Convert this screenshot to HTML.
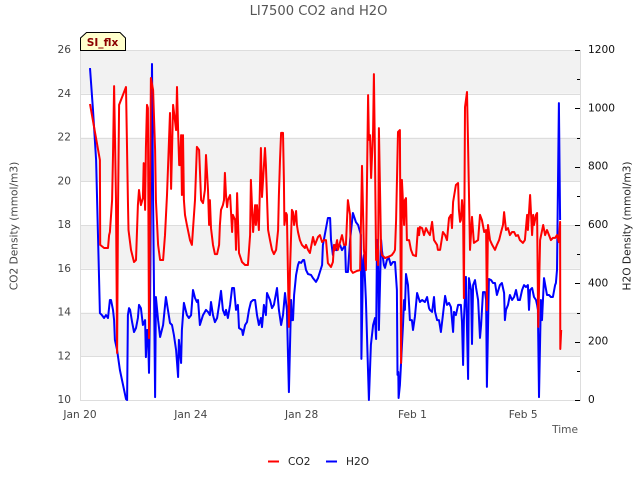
<!DOCTYPE html>
<html>
<head>
<meta charset="utf-8">
<title>LI7500 CO2 and H2O</title>
<style>
html,body{margin:0;padding:0;background:#fff;width:640px;height:480px;overflow:hidden}
svg{display:block;font-family:"DejaVu Sans",sans-serif}
</style>
</head>
<body>
<svg id="chart" width="640" height="480" viewBox="0 0 640 480" xmlns="http://www.w3.org/2000/svg">
  <g id="bands"></g>
  <g id="series"></g>
  <g id="axes"></g>
  <g>
    <polygon points="80.5,50.5 80.5,38 86.5,32.5 120,32.5 125.5,38 125.5,50.5" fill="#ffffcc" stroke="#000" stroke-width="1"/>
    <text x="102.5" y="46" text-anchor="middle" font-size="10.6" font-weight="bold" fill="#8b0000">SI_flx</text>
  </g>
  <text x="318.5" y="15" text-anchor="middle" font-size="13.1" fill="#555">LI7500 CO2 and H2O</text>
  <text transform="translate(17.5,226) rotate(-90)" text-anchor="middle" font-size="10.6" fill="#444">CO2 Density (mmol/m3)</text>
  <text transform="translate(630.5,226) rotate(-90)" text-anchor="middle" font-size="10.6" fill="#222">H2O Density (mmol/m3)</text>
  <text x="578" y="433" text-anchor="end" font-size="10.6" fill="#555">Time</text>
  <g>
    <line x1="268" y1="461.5" x2="279" y2="461.5" stroke="#ff0000" stroke-width="2"/>
    <text x="288" y="465" font-size="10.6" fill="#222">CO2</text>
  </g>
  <g>
    <line x1="326" y1="461.5" x2="337" y2="461.5" stroke="#0000ff" stroke-width="2"/>
    <text x="346" y="465" font-size="10.6" fill="#222">H2O</text>
  </g>
</svg>
<script>
// Days since Jan 20 and measured values
const xTickDays = [0, 4, 8, 12, 16];
const xTickLabels = ["Jan 20", "Jan 24", "Jan 28", "Feb 1", "Feb 5"];
const leftTicks = [10, 12, 14, 16, 18, 20, 22, 24, 26];
const rightTicks = [0, 200, 400, 600, 800, 1000, 1200];
const rightMinorTicks = [100, 300, 500, 700, 900, 1100];

const co2Days = [.36,.72,.73,.87,1.01,1.05,1.08,1.16,1.19,1.23,1.30,1.34,1.37,1.41,1.66,1.73,1.75,1.84,1.95,2.02,2.09,2.13,2.20,2.27,2.30,2.35,2.38,2.42,2.45,2.49,2.56,2.64,2.71,2.74,2.82,2.89,3.00,3.07,3.14,3.18,3.25,3.29,3.36,3.47,3.50,3.54,3.58,3.61,3.65,3.68,3.72,3.75,3.79,3.86,3.97,4.04,4.15,4.22,4.30,4.37,4.44,4.51,4.55,4.62,4.66,4.69,4.73,4.80,4.87,4.95,5.02,5.05,5.09,5.16,5.20,5.23,5.27,5.31,5.34,5.42,5.49,5.52,5.60,5.63,5.67,5.74,5.85,5.96,6.06,6.14,6.17,6.25,6.32,6.35,6.39,6.46,6.50,6.53,6.57,6.68,6.71,6.79,6.86,6.93,7.00,7.08,7.15,7.18,7.22,7.26,7.33,7.36,7.38,7.44,7.47,7.54,7.58,7.65,7.69,7.73,7.80,7.83,7.87,7.94,8.01,8.12,8.16,8.23,8.30,8.41,8.48,8.59,8.66,8.74,8.81,8.88,8.95,9.06,9.13,9.17,9.21,9.28,9.31,9.39,9.46,9.53,9.60,9.67,9.75,9.78,9.85,10.00,10.11,10.18,10.25,10.32,10.36,10.40,10.43,10.47,10.51,10.58,10.61,10.65,10.69,10.72,10.76,10.79,10.87,10.90,11.01,11.12,11.19,11.26,11.34,11.37,11.41,11.48,11.55,11.59,11.62,11.70,11.73,11.77,11.80,11.88,11.95,12.02,12.13,12.17,12.20,12.24,12.27,12.35,12.42,12.49,12.56,12.63,12.71,12.78,12.89,12.92,13.00,13.10,13.18,13.25,13.32,13.39,13.43,13.47,13.57,13.65,13.68,13.72,13.75,13.79,13.83,13.86,13.90,13.97,14.01,14.08,14.15,14.22,14.37,14.44,14.51,14.59,14.66,14.69,14.73,14.80,14.88,14.98,15.05,15.13,15.20,15.27,15.31,15.38,15.45,15.52,15.60,15.67,15.74,15.81,15.88,15.99,16.06,16.14,16.17,16.25,16.32,16.36,16.39,16.46,16.50,16.54,16.61,16.72,16.79,16.86,16.93,17.00,17.07,17.15,17.22,17.29,17.33,17.34,17.37];
const co2Values = [23.53,20.97,17.09,16.95,16.95,17.54,17.68,19.14,21.20,24.35,19.14,12.15,18.69,23.49,24.31,19.14,17.77,16.86,16.31,16.40,18.91,19.60,18.91,19.23,20.83,18.69,21.52,23.49,23.35,12.83,24.72,24.17,21.43,19.14,17.09,16.40,16.40,17.54,19.37,20.74,23.12,19.65,23.49,22.34,24.31,22.34,20.74,20.74,22.11,19.37,22.11,19.14,18.46,18.00,17.31,17.09,19.14,21.57,21.43,19.14,19.00,19.60,21.20,19.60,18.00,19.14,17.86,17.09,16.67,16.67,17.09,18.00,18.69,18.91,19.14,20.38,19.37,18.82,19.14,19.37,17.68,18.46,18.23,16.86,19.46,16.72,16.31,16.17,16.17,17.54,20.06,17.68,18.91,18.00,18.91,17.77,20.06,21.52,19.28,21.52,20.74,17.77,17.31,16.86,16.67,16.86,17.77,19.37,20.97,22.21,22.21,20.06,18.00,18.55,18.46,13.34,15.94,18.69,18.59,18.00,18.64,18.00,17.68,17.31,17.09,16.95,17.09,16.86,16.72,17.45,17.09,17.45,17.54,17.22,17.31,17.31,16.26,16.08,16.31,17.09,16.86,17.31,16.86,17.22,17.54,17.09,17.09,19.14,18.46,15.94,15.81,15.90,15.94,20.70,16.86,15.94,20.06,23.94,21.89,22.11,20.15,22.34,24.90,20.97,16.40,16.86,16.17,22.43,16.86,16.63,16.49,16.54,16.58,16.63,16.77,16.86,18.23,22.25,22.34,11.69,20.06,18.00,19.14,19.23,17.31,17.31,16.86,16.63,16.58,17.31,17.86,17.54,17.91,17.86,17.54,17.86,17.68,17.54,18.14,17.31,17.09,16.86,16.86,17.68,17.54,17.31,18.32,18.46,17.86,19.05,19.83,19.92,18.69,18.14,18.23,19.14,18.46,14.66,23.39,24.08,21.57,16.86,18.37,17.18,17.31,18.46,18.23,17.68,17.77,14.11,18.00,17.31,17.09,16.86,17.09,17.31,17.68,18.00,18.59,17.77,17.86,17.54,17.68,17.68,17.50,17.54,17.31,17.18,17.31,18.46,17.77,19.37,17.54,18.46,18.00,18.46,18.55,13.34,17.31,18.00,17.54,17.77,17.54,17.31,17.41,17.41,17.54,17.22,18.14,12.33,13.20];

const h2oDays = [.36,.47,.58,.69,.72,.79,.87,.94,1.01,1.08,1.12,1.19,1.23,1.26,1.34,1.44,1.66,1.70,1.73,1.77,1.81,1.88,1.95,2.02,2.09,2.13,2.20,2.27,2.35,2.38,2.42,2.45,2.49,2.53,2.60,2.64,2.71,2.74,2.82,2.89,3.00,3.10,3.25,3.32,3.39,3.47,3.54,3.57,3.65,3.68,3.75,3.86,3.93,4.01,4.08,4.15,4.22,4.26,4.33,4.44,4.55,4.62,4.69,4.73,4.80,4.87,4.95,5.02,5.09,5.16,5.23,5.27,5.34,5.42,5.49,5.56,5.63,5.70,5.74,5.85,5.88,5.96,6.03,6.10,6.17,6.25,6.32,6.39,6.46,6.53,6.57,6.64,6.71,6.75,6.86,6.93,7.00,7.11,7.18,7.26,7.33,7.40,7.47,7.54,7.62,7.65,7.69,7.73,7.80,7.87,7.91,7.98,8.05,8.09,8.16,8.23,8.34,8.41,8.52,8.59,8.66,8.74,8.77,8.95,9.03,9.06,9.13,9.21,9.24,9.28,9.35,9.39,9.46,9.57,9.60,9.67,9.75,9.85,9.96,10.04,10.07,10.14,10.16,10.22,10.25,10.32,10.43,10.50,10.58,10.65,10.69,10.72,10.76,10.79,10.87,10.90,10.97,11.01,11.08,11.15,11.22,11.30,11.37,11.44,11.46,11.49,11.50,11.55,11.59,11.66,11.70,11.73,11.77,11.84,11.91,11.98,12.02,12.09,12.17,12.27,12.35,12.45,12.53,12.60,12.63,12.71,12.78,12.82,12.89,12.96,13.03,13.10,13.18,13.25,13.32,13.39,13.47,13.50,13.57,13.65,13.75,13.79,13.83,13.86,13.93,14.01,14.04,14.12,14.15,14.19,14.26,14.30,14.37,14.44,14.48,14.55,14.62,14.66,14.69,14.76,14.84,14.91,14.98,15.05,15.16,15.23,15.31,15.34,15.38,15.45,15.52,15.60,15.67,15.74,15.81,15.88,15.96,16.03,16.10,16.17,16.21,16.25,16.32,16.39,16.46,16.50,16.53,16.57,16.64,16.68,16.75,16.86,16.93,17.00,17.07,17.15,17.18,17.22,17.29,17.33];
const h2oValues = [1138,994,823,411,298,291,281,291,281,343,343,309,274,206,171,103,3,0,291,315,309,267,233,247,281,326,315,257,274,147,240,240,93,343,1152,686,10,353,274,216,257,353,264,257,223,171,79,206,127,240,333,291,281,291,377,350,336,343,257,291,309,302,291,336,291,267,281,326,374,309,291,309,281,326,384,384,309,326,247,240,223,257,267,309,336,343,343,291,257,281,250,326,291,367,343,315,326,384,309,257,291,367,309,27,343,274,274,360,429,463,473,470,480,480,446,432,429,418,405,418,439,463,531,624,624,549,497,531,514,514,531,531,514,531,439,439,549,641,610,600,590,566,141,480,497,343,0,189,257,281,209,549,514,240,549,514,463,453,480,487,463,473,473,377,86,96,7,51,130,257,343,309,432,394,274,274,240,285,367,336,343,336,353,315,309,302,353,302,274,274,233,291,357,326,333,319,233,302,291,326,326,267,120,274,422,72,418,377,192,394,411,384,343,213,257,370,370,343,45,415,411,401,401,360,394,401,367,274,309,326,360,343,353,377,343,343,377,394,387,394,309,377,384,353,343,326,309,10,343,274,418,360,360,353,353,394,401,446,1018,617];

const NS = "http://www.w3.org/2000/svg";
const plotLeft = 80, plotRight = 580, plotTop = 50, plotBottom = 400;
const dayMax = 18.05;
const xScale = d => plotLeft + d / dayMax * (plotRight - plotLeft);
const yLeft = v => plotBottom - (v - 10) / 16 * (plotBottom - plotTop);
const yRight = v => plotBottom - v / 1200 * (plotBottom - plotTop);
const mk = (tag, parent, props) => {
  const el = document.createElementNS(NS, tag);
  for (const k in props) el.setAttribute(k, props[k]);
  parent.appendChild(el);
  return el;
};
const bands = document.getElementById("bands");
const axes = document.getElementById("axes");
const series = document.getElementById("series");

for (let i = 0; i < leftTicks.length - 1; i++) {
  if (i % 2 === 0) continue;
  const band = mk("rect", bands, {x: plotLeft, y: yLeft(leftTicks[i + 1]), width: plotRight - plotLeft, height: yLeft(leftTicks[i]) - yLeft(leftTicks[i + 1]), fill: "#f2f2f2"});
  
  
}
leftTicks.forEach(v => {
  const y = Math.round(yLeft(v)) + 0.5;
  const g = mk("line", bands, {x1: plotLeft, x2: plotRight, y1: y, y2: y, stroke: "#dddddd", "stroke-width": 1});
  
  
  const t = mk("text", axes, {x: 71, y: yLeft(v) + 3, "text-anchor": "end", "font-size": 10.6, fill: "#444"});
  
  
  t.textContent = v;
});
const frame = mk("path", bands, {d: `M${plotLeft+.5} ${plotTop}V${plotBottom+.5}H${plotRight+.5}V${plotTop}`, fill: "none", stroke: "#dddddd", "stroke-width": 1});



rightTicks.forEach(v => {
  const y = Math.round(yRight(v)) + 0.5;
  const m = mk("line", axes, {x1: 575, x2: 580, y1: y, y2: y, stroke: "#000", "stroke-width": 1});
  
  
  const t = mk("text", axes, {x: 588, y: yRight(v) + 3, "font-size": 10.6, fill: "#111"});
  
  
  t.textContent = v;
});
rightMinorTicks.forEach(v => {
  const y = Math.round(yRight(v)) + 0.5;
  const m = mk("line", axes, {x1: 577, x2: 580, y1: y, y2: y, stroke: "#000", "stroke-width": 1});
  
  
});
xTickDays.forEach((d, i) => {
  const t = mk("text", axes, {x: xScale(d), y: 418, "text-anchor": "middle", "font-size": 10.6, fill: "#444"});
  
  
  t.textContent = xTickLabels[i];
});

const clip = mk("clipPath", series, {id: "plot-clip"});
mk("rect", clip, {x: plotLeft, y: plotTop, width: plotRight - plotLeft, height: plotBottom - plotTop + 1});
const h2oPts = h2oDays.map((d, i) => xScale(d).toFixed(1) + "," + yRight(h2oValues[i]).toFixed(1)).join(" ");
const co2Pts = co2Days.map((d, i) => xScale(d).toFixed(1) + "," + yLeft(co2Values[i]).toFixed(1)).join(" ");
const h2oLine = mk("polyline", series, {points: h2oPts, fill: "none", stroke: "#0000ff", "stroke-width": 2, "stroke-linejoin": "round", "clip-path": "url(#plot-clip)"});


const co2Line = mk("polyline", series, {points: co2Pts, fill: "none", stroke: "#ff0000", "stroke-width": 2, "stroke-linejoin": "round", "clip-path": "url(#plot-clip)"});


</script>
</body>
</html>
